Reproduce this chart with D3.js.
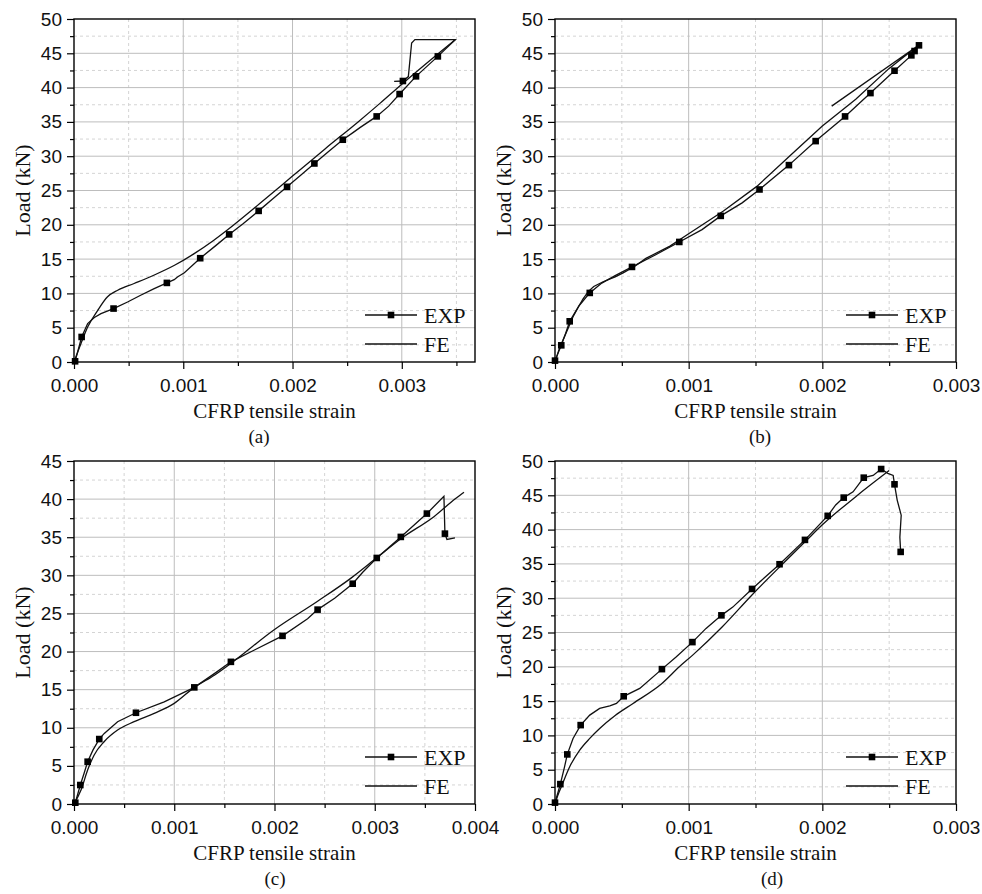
<!DOCTYPE html>
<html>
<head>
<meta charset="utf-8">
<script src="https://cdn.jsdelivr.net/npm/d3@7"></script>
<style>
  body { margin: 0; background: #fff; }
</style>
</head>
<body>
<div id="chart"></div>
<script>
// tick labels
var xTicks3 = [0, 0.001, 0.002, 0.003];
var xTicks4 = [0, 0.001, 0.002, 0.003, 0.004];
var yTicks50 = [0, 5, 10, 15, 20, 25, 30, 35, 40, 45, 50];
var yTicks45 = [0, 5, 10, 15, 20, 25, 30, 35, 40, 45];
var seriesNames = ["EXP", "FE"];
var captions = ["(a)", "(b)", "(c)", "(d)"];

// EXP curves: [strain, load, marker?]
var expA = [[0.00001,0.1,1],[0.00007,3.65,1],[0.000125,5.6,0],[0.000186,6.48,0],[0.000247,7.06,0],[0.000362,7.79,1],
  [0.00049,8.75,0],[0.00061,9.73,0],[0.000734,10.7,0],[0.00085,11.53,1],[0.000917,12.0,0],[0.000947,12.4,0],
  [0.00101,13.0,0],[0.001155,15.13,1],[0.0013,17.0,0],[0.00142,18.6,1],[0.00155,20.2,0],[0.00169,22.03,1],
  [0.00182,23.8,0],[0.00195,25.54,1],[0.00208,27.3,0],[0.0022,28.94,1],[0.00233,30.7,0],[0.00246,32.4,1],
  [0.00255,33.4,0],[0.00262,34.2,0],[0.00277,35.8,1],[0.00288,37.3,0],[0.00298,39.06,1],[0.00313,41.64,1],
  [0.00333,44.55,1],[0.00349,47.0,0],
  [0.00312,47.0,0],[0.00309,46.5,0],[0.00306,41.6,0],[0.00301,40.96,1],[0.00293,40.9,0]];
var feA = [[0,0],[0.000064,2.7],[0.000125,5.1],[0.000216,7.5],[0.000307,9.5],[0.0004,10.46],[0.00055,11.44],
  [0.00073,12.65],[0.00092,14.1],[0.0011,15.8],[0.00128,17.75],[0.0014,19.2],[0.0017,23.1],[0.002,27.1],
  [0.0023,31.1],[0.0026,35.0],[0.0028,37.7],[0.003,40.5],[0.0032,43.2],[0.00349,47.0]];

var expB = [[0,0.2,1],[0.000047,2.43,1],[0.00008,4.2,0],[0.00011,5.93,1],[0.00018,8.2,0],[0.00026,10.07,1],
  [0.00035,11.5,0],[0.00045,12.6,0],[0.000576,13.86,1],[0.00075,15.6,0],[0.00093,17.5,1],[0.0011,19.3,0],
  [0.00124,21.3,1],[0.0014,23.2,0],[0.00153,25.15,1],[0.00175,28.7,1],[0.00195,32.2,1],[0.00217,35.8,1],
  [0.00236,39.2,1],[0.00254,42.46,1],[0.002666,44.7,1],[0.00269,45.33,1],[0.002723,46.16,1]];
var feB = [[0,0],[0.00003,1.8],[0.00006,3.2],[0.0001,5.0],[0.000135,6.6],[0.00018,8.2],[0.00021,9.2],
  [0.00025,10.3],[0.00029,11.0],[0.00036,11.7],[0.00045,12.4],[0.00051,13.0],[0.0006,14.0],[0.00068,15.1],
  [0.00086,16.9],[0.001,18.7],[0.00126,22.0],[0.00151,25.6],[0.00176,30.1],[0.002,34.4],[0.00225,38.3],
  [0.0025,42.8],[0.00272,46.16],[0.00207,37.3]];

var expC = [[0.000013,0.17,1],[0.000063,2.49,1],[0.0001,4.0,0],[0.000136,5.55,1],[0.00019,7.1,0],[0.000252,8.52,1],
  [0.000302,9.26,0],[0.000435,10.8,0],[0.000618,11.97,1],[0.0009,13.4,0],[0.0012,15.3,1],[0.0014,17.1,0],
  [0.001565,18.65,1],[0.0018,20.2,0],[0.00208,22.06,1],[0.00233,24.3,0],[0.00243,25.5,1],[0.0026,27.0,0],
  [0.00278,28.9,1],[0.00288,30.4,0],[0.00302,32.28,1],[0.00326,35.04,1],[0.00352,38.1,1],[0.00369,40.37,0],
  [0.0037,35.47,1],[0.00372,34.7,0],[0.0038,34.9,0]];
var feC = [[0,0],[0.00007,1.83],[0.000136,4.46],[0.0002,6.4],[0.0003,8.17],[0.000435,9.7],[0.0006,10.8],
  [0.0008,11.9],[0.001,13.2],[0.0012,15.3],[0.0014,16.9],[0.00159,18.7],[0.00199,22.8],[0.00243,26.6],
  [0.00276,29.6],[0.00302,32.3],[0.00326,34.8],[0.00359,37.7],[0.0038,40.0],[0.00389,40.9]];

var expD = [[0,0.2,1],[0.00004,2.9,1],[0.00007,5.3,0],[0.000092,7.23,1],[0.000135,9.56,0],[0.000192,11.5,1],
  [0.00026,12.96,0],[0.000334,13.94,0],[0.00041,14.3,0],[0.00046,14.66,0],[0.000514,15.7,1],[0.000634,16.85,0],
  [0.0008,19.66,1],[0.000908,21.45,0],[0.001028,23.6,1],[0.00113,25.6,0],[0.001245,27.5,1],[0.00133,28.7,0],
  [0.001474,31.35,1],[0.00168,34.95,1],[0.00187,38.5,1],[0.00204,42.0,1],[0.0021,43.6,0],[0.00216,44.66,1],
  [0.00223,45.5,0],[0.00231,47.57,1],[0.00238,47.9,0],[0.00244,48.83,1],[0.00249,48.2,0],[0.00253,47.9,0],
  [0.00254,46.6,1],[0.00256,44.3,0],[0.00259,42.1,0],[0.00258,38.9,0],[0.002586,36.75,1]];
var feD = [[0,0],[0.00002,1.2],[0.000047,2.5],[0.00011,5.44],[0.000185,7.86],[0.00026,9.56],[0.000334,11.0],
  [0.00045,12.9],[0.000584,14.66],[0.0008,17.57],[0.00093,20.0],[0.00103,21.7],[0.00125,25.8],[0.00147,30.4],
  [0.00168,34.55],[0.00188,38.4],[0.002,40.7],[0.00225,44.8],[0.0025,48.6]];

var svg = d3.select("#chart")
  .append("svg")
    .attr("width", 982)
    .attr("height", 894);

var panels = [
  {left: 74, top: 19, right: 475, bottom: 362, xMax: 0.00367, yMax: 50, xt: xTicks3, yt: yTicks50, exp: expA, fe: feA, cap: 0, capX: 259},
  {left: 555, top: 19, right: 956, bottom: 362, xMax: 0.003, yMax: 50, xt: xTicks3, yt: yTicks50, exp: expB, fe: feB, cap: 1, capX: 760},
  {left: 74, top: 461, right: 475, bottom: 804, xMax: 0.004, yMax: 45, xt: xTicks4, yt: yTicks45, exp: expC, fe: feC, cap: 2, capX: 275},
  {left: 555, top: 461, right: 956, bottom: 804, xMax: 0.003, yMax: 50, xt: xTicks3, yt: yTicks50, exp: expD, fe: feD, cap: 3, capX: 772}
];

panels.forEach(function(p) {
  var w = p.right - p.left, h = p.bottom - p.top;
  var g = svg.append("g").attr("transform", "translate(" + p.left + "," + p.top + ")");

  var x = d3.scaleLinear().domain([0, p.xMax]).range([0, w]);
  var y = d3.scaleLinear().domain([0, p.yMax]).range([h, 0]);

  // minor values = halfway between majors
  var xMinor = d3.range(0.0005, p.xMax + 1e-9, 0.001);
  var yMinor = d3.range(2.5, p.yMax, 5);

  // grid
  g.selectAll(".gxm").data(xMinor).enter().append("line")
    .attr("x1", d => x(d)).attr("x2", d => x(d)).attr("y1", 0).attr("y2", h)
    .style("stroke", "#d4d4d4").style("stroke-dasharray", "3,3").style("stroke-width", 1);
  g.selectAll(".gym").data(yMinor).enter().append("line")
    .attr("x1", 0).attr("x2", w).attr("y1", d => y(d)).attr("y2", d => y(d))
    .style("stroke", "#d4d4d4").style("stroke-dasharray", "3,3").style("stroke-width", 1);
  g.selectAll(".gx").data(p.xt.filter(d => d > 0 && d < p.xMax)).enter().append("line")
    .attr("x1", d => x(d)).attr("x2", d => x(d)).attr("y1", 0).attr("y2", h)
    .style("stroke", "#bdbdbd").style("stroke-width", 1);
  g.selectAll(".gy").data(p.yt.filter(d => d > 0 && d < p.yMax)).enter().append("line")
    .attr("x1", 0).attr("x2", w).attr("y1", d => y(d)).attr("y2", d => y(d))
    .style("stroke", "#bdbdbd").style("stroke-width", 1);

  // axes
  var xa = g.append("g").attr("transform", "translate(0," + h + ")")
    .call(d3.axisBottom(x).tickValues(p.xt).tickFormat(d3.format(".3f")).tickSize(7).tickSizeOuter(0));
  var xm = g.append("g").attr("transform", "translate(0," + h + ")")
    .call(d3.axisBottom(x).tickValues(xMinor).tickFormat("").tickSize(4).tickSizeOuter(0));
  var ya = g.append("g")
    .call(d3.axisLeft(y).tickValues(p.yt).tickFormat(d3.format("d")).tickSize(7).tickSizeOuter(0));
  var ym = g.append("g")
    .call(d3.axisLeft(y).tickValues(yMinor).tickFormat("").tickSize(4).tickSizeOuter(0));
  [xa, xm, ya, ym].forEach(function(a) {
    a.select(".domain").remove();
    a.selectAll("line").style("stroke", "#000").style("stroke-width", 1.2);
    a.selectAll("text").style("font-family", "'Liberation Sans', Arial, sans-serif")
      .style("font-size", "19px").style("fill", "#111");
  });
  xa.selectAll("text").attr("y", 17).attr("dy", "0.71em");
  ya.selectAll("text").attr("x", -12);

  // frame
  g.append("rect").attr("width", w).attr("height", h)
    .style("fill", "none").style("stroke", "#000").style("stroke-width", 1.4);

  var line = d3.line().x(d => x(d[0])).y(d => y(d[1]));
  // smooth FE curve where strain only increases
  var mono = p.fe.every((d, i) => i == 0 || d[0] > p.fe[i - 1][0]);
  var feLine = d3.line().x(d => x(d[0])).y(d => y(d[1]))
    .curve(mono ? d3.curveMonotoneX : d3.curveLinear);

  g.append("path").datum(p.fe).attr("d", feLine)
    .style("fill", "none").style("stroke", "#111").style("stroke-width", 1.3);
  g.append("path").datum(p.exp).attr("d", line)
    .style("fill", "none").style("stroke", "#111").style("stroke-width", 1.3);
  g.selectAll(".dot").data(p.exp.filter(d => d[2])).enter().append("rect")
    .attr("x", d => x(d[0]) - 3.3).attr("y", d => y(d[1]) - 3.3)
    .attr("width", 6.6).attr("height", 6.6).style("fill", "#000");

  // legend
  var lg = g.append("g").attr("transform", "translate(" + (w - 110) + "," + (h - 47) + ")");
  lg.append("line").attr("x1", 0).attr("x2", 52).attr("y1", 0).attr("y2", 0)
    .style("stroke", "#111").style("stroke-width", 1.3);
  lg.append("rect").attr("x", 26 - 3.3).attr("y", -3.3).attr("width", 6.6).attr("height", 6.6).style("fill", "#000");
  lg.append("line").attr("x1", 0).attr("x2", 52).attr("y1", 29).attr("y2", 29)
    .style("stroke", "#111").style("stroke-width", 1.3);
  lg.selectAll("text").data(seriesNames).enter().append("text")
    .attr("x", 59).attr("y", (d, i) => i * 29 + 8)
    .style("font-family", "'Liberation Serif', 'Times New Roman', serif")
    .style("font-size", "22px").style("fill", "#111")
    .text(d => d);

  // axis titles
  g.append("text")
    .attr("x", w / 2).attr("y", h + 56)
    .attr("text-anchor", "middle")
    .style("font-family", "'Liberation Serif', 'Times New Roman', serif")
    .style("font-size", "21px").style("fill", "#111")
    .text("CFRP tensile strain");
  g.append("text")
    .attr("transform", "rotate(-90)")
    .attr("x", -h / 2).attr("y", -44)
    .attr("text-anchor", "middle")
    .style("font-family", "'Liberation Serif', 'Times New Roman', serif")
    .style("font-size", "22px").style("fill", "#111")
    .text("Load (kN)");

  svg.append("text")
    .attr("x", p.capX).attr("y", p.bottom + 81)
    .attr("text-anchor", "middle")
    .style("font-family", "'Liberation Serif', 'Times New Roman', serif")
    .style("font-size", "19px").style("fill", "#111")
    .text(captions[p.cap]);
});
</script>
</body>
</html>
